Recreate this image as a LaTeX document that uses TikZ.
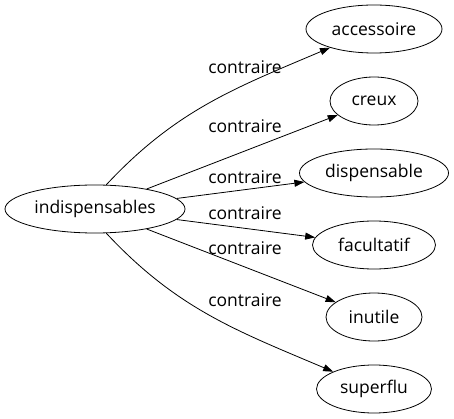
\documentclass[tikz,border=0pt]{standalone}
\usepackage{fontspec}
\setmainfont{Open Sans}
\usetikzlibrary{arrows.meta,shapes.geometric}
\tikzset{
  wordnode/.style = {align=center, inner sep=0pt, text centered, font=\fontsize{17.5}{20}\selectfont},
  % word node: empty ellipse with black border
  arn_W/.style = {wordnode, ellipse, draw=black, minimum height=48pt},
  label_C/.style = {wordnode, fill=none}
}
\begin{document}
\begin{tikzpicture}[x=1pt,y=-1pt,
    ->,>={Triangle[length=10pt,width=7pt]},
    line width=0.8pt
    ]
    \useasboundingbox (0,0) rectangle (454,419);
    % Root node:
    \node [arn_W][minimum width=180pt] (indisp) at (95,209) {indispensables};
    % Contrary nodes:
    \node [arn_W][minimum width=136pt] (access) at (374,29) {accessoire};
    \node [arn_W][minimum width=88pt] (creux) at (374,101) {creux};
    \node [arn_W][minimum width=149pt] (dispens) at (374,173) {dispensable};
    \node [arn_W][minimum width=123pt] (facult) at (374,245) {facultatif};
    \node [arn_W][minimum width=96pt] (inutile) at (374,317) {inutile};
    \node [arn_W][minimum width=115pt] (superflu) at (374,389) {superflu};
    % Edges:
    \draw (indisp.65) to[out=47,in=203] (access);
    \draw (indisp) -- (creux);
    \draw (indisp) -- (dispens);
    \draw (indisp) -- (facult);
    \draw (indisp) -- (inutile);
    \draw (indisp.-65) to[out=-47,in=157] (superflu);
    % Edge labels:
    \node [label_C] (c1) at (245,67) {contraire};
    \node [label_C] (c2) at (245,126) {contraire};
    \node [label_C] (c3) at (245,177) {contraire};
    \node [label_C] (c4) at (245,213) {contraire};
    \node [label_C] (c5) at (245,248) {contraire};
    \node [label_C] (c6) at (245,300) {contraire};
\end{tikzpicture}
\end{document}
